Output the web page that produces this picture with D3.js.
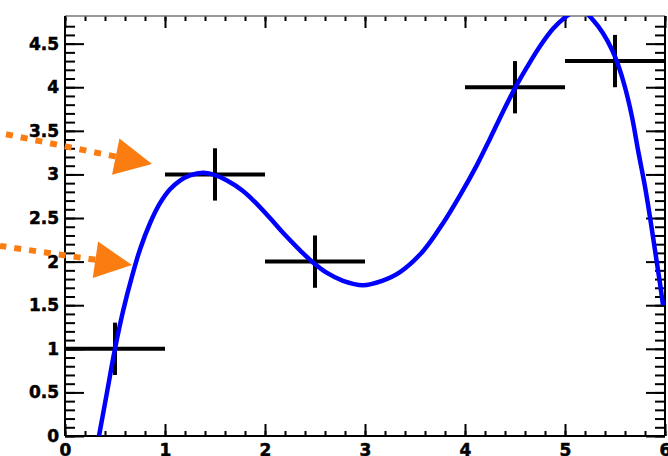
<!DOCTYPE html>
<html>
<head>
<meta charset="utf-8">
<script src="https://cdn.jsdelivr.net/npm/d3@7"></script>
<style>
  html, body { margin: 0; padding: 0; background: #fff; }
  svg { display: block; }
</style>
</head>
<body>
<svg id="chart" width="668" height="456"></svg>
<script>
// ---------------------------------------------
// Data
// ---------------------------------------------

// measured points with errors
let pointX = [0.5, 1.5, 2.5, 4.5, 5.5];
let pointY = [1, 3, 2, 4, 4.3];
let errX = [0.5, 0.5, 0.5, 0.5, 0.5];
let errY = [0.3, 0.3, 0.3, 0.3, 0.3];

// smooth curve
let curveX = [0.34, 0.42, 0.5, 0.58, 0.67, 0.75, 0.85, 0.95, 1.05, 1.15, 1.25, 1.38, 1.48,
  1.62, 1.78, 1.92, 2.05, 2.18, 2.35, 2.48, 2.62, 2.78, 2.98, 3.17, 3.35, 3.58, 3.78,
  3.95, 4.12, 4.25, 4.38, 4.5, 4.62, 4.75, 4.88, 5.0, 5.1, 5.2, 5.28, 5.38, 5.47, 5.53,
  5.6, 5.67, 5.73, 5.8, 5.85, 5.9, 5.95, 5.98];
let curveY = [0, 0.5, 1.0, 1.43, 1.83, 2.14, 2.44, 2.67, 2.83, 2.93, 2.99, 3.02, 3.0,
  2.93, 2.81, 2.66, 2.5, 2.33, 2.13, 1.99, 1.87, 1.78, 1.73, 1.78, 1.88, 2.12, 2.44,
  2.76, 3.11, 3.41, 3.72, 3.99, 4.23, 4.47, 4.67, 4.8, 4.87, 4.86, 4.77, 4.62, 4.43, 4.26,
  4.0, 3.66, 3.28, 2.86, 2.51, 2.13, 1.75, 1.5];

// arrows: start and tip, in axis units
let arrowX1 = [-0.65, -0.65];
let arrowY1 = [3.475, 2.18];
let arrowX2 = [0.87, 0.67];
let arrowY2 = [3.12, 1.96];

// axis ticks
let yMajor = [0, 0.5, 1, 1.5, 2, 2.5, 3, 3.5, 4, 4.5];
let yMinor = d3.range(0, 48).map(i => i / 10);
let xMajor = [0, 1, 2, 3, 4, 5, 6];
let xMinor = d3.range(0, 31).map(i => i / 5);

// ---------------------------------------------
// Drawing
// ---------------------------------------------

let svg = d3.select('#chart');
let margin = {top: 16, right: 3, bottom: 20, left: 65};
let width = 668 - margin.left - margin.right;
let height = 456 - margin.top - margin.bottom;

let scaleX = d3.scaleLinear().domain([0, 6]).range([0, width]);
let scaleY = d3.scaleLinear().domain([0, 4.817]).range([height, 0]);

let g = svg.append('g')
    .attr('transform', `translate(${margin.left},${margin.top})`);

svg.append('defs').append('clipPath').attr('id', 'plot-clip')
  .append('rect').attr('x', 0).attr('y', 0).attr('width', width).attr('height', height);

// Styles a d3 axis group: no domain, black ticks, heavy labels
let styleAxis = function(sel, strokeWidth) {
  sel.select('.domain').remove();
  sel.selectAll('.tick line').attr('stroke', '#000').attr('stroke-width', strokeWidth);
  sel.selectAll('.tick text')
      .attr('fill', '#000')
      .attr('stroke', '#000')
      .attr('stroke-width', 0.5);
  sel.attr('font-family', '"DejaVu Sans", sans-serif')
      .attr('font-size', 17)
      .attr('font-weight', 'bold');
};

// minor ticks first
g.append('g')
    .call(d3.axisLeft(scaleY).tickValues(yMinor).tickSizeInner(-10).tickSizeOuter(0).tickFormat(''))
    .call(styleAxis, 2);
g.append('g').attr('transform', `translate(${width},0)`)
    .call(d3.axisRight(scaleY).tickValues(yMinor).tickSizeInner(-10).tickSizeOuter(0).tickFormat(''))
    .call(styleAxis, 2);
g.append('g').attr('transform', `translate(0,${height})`)
    .call(d3.axisBottom(scaleX).tickValues(xMinor).tickSizeInner(-5).tickSizeOuter(0).tickFormat(''))
    .call(styleAxis, 2);
g.append('g')
    .call(d3.axisTop(scaleX).tickValues(xMinor).tickSizeInner(-5).tickSizeOuter(0).tickFormat(''))
    .call(styleAxis, 2);

// major ticks with labels
g.append('g')
    .call(d3.axisLeft(scaleY).tickValues(yMajor).tickSizeInner(-19).tickSizeOuter(0)
      .tickPadding(6).tickFormat(d3.format('')))
    .call(styleAxis, 2);
g.append('g').attr('transform', `translate(${width},0)`)
    .call(d3.axisRight(scaleY).tickValues(yMajor).tickSizeInner(-19).tickSizeOuter(0).tickFormat(''))
    .call(styleAxis, 2);
g.append('g').attr('transform', `translate(0,${height})`)
    .call(d3.axisBottom(scaleX).tickValues(xMajor).tickSizeInner(-12).tickSizeOuter(0)
      .tickPadding(8).tickFormat(d3.format('d')))
    .call(styleAxis, 2);
g.append('g')
    .call(d3.axisTop(scaleX).tickValues(xMajor).tickSizeInner(-12).tickSizeOuter(0).tickFormat(''))
    .call(styleAxis, 2);

// frame
g.append('line').attr('x1', 0).attr('x2', width).attr('y1', 0).attr('y2', 0)
    .attr('stroke', '#777').attr('stroke-width', 1.5);
g.append('line').attr('x1', 0).attr('x2', width).attr('y1', height).attr('y2', height)
    .attr('stroke', '#000').attr('stroke-width', 2);
g.append('line').attr('x1', 0).attr('x2', 0).attr('y1', 0).attr('y2', height)
    .attr('stroke', '#000').attr('stroke-width', 2);
g.append('line').attr('x1', width).attr('x2', width).attr('y1', 0).attr('y2', height)
    .attr('stroke', '#000').attr('stroke-width', 2);

// error bars
let points = pointX.map((x, i) => ({x: x, y: pointY[i], ex: errX[i], ey: errY[i]}));
let bars = g.append('g').attr('clip-path', 'url(#plot-clip)');
bars.selectAll('line.hbar').data(points).join('line').attr('class', 'hbar')
    .attr('x1', d => scaleX(d.x - d.ex)).attr('x2', d => scaleX(d.x + d.ex))
    .attr('y1', d => scaleY(d.y)).attr('y2', d => scaleY(d.y))
    .attr('stroke', '#000').attr('stroke-width', 4);
bars.selectAll('line.vbar').data(points).join('line').attr('class', 'vbar')
    .attr('x1', d => scaleX(d.x)).attr('x2', d => scaleX(d.x))
    .attr('y1', d => scaleY(d.y - d.ey)).attr('y2', d => scaleY(d.y + d.ey))
    .attr('stroke', '#000').attr('stroke-width', 4);

// curve
let curvePts = curveX.map((x, i) => [x, curveY[i]]);
g.append('path').datum(curvePts)
    .attr('clip-path', 'url(#plot-clip)')
    .attr('fill', 'none')
    .attr('stroke', '#0000ff')
    .attr('stroke-width', 4.5)
    .attr('stroke-linejoin', 'round')
    .attr('d', d3.line().x(d => scaleX(d[0])).y(d => scaleY(d[1])).curve(d3.curveCatmullRom));

// arrows
let headLen = 37;
let headHalf = 18.5;
let orange = '#fb7d12';
arrowX1.forEach((x1, i) => {
  let ax = scaleX(x1), ay = scaleY(arrowY1[i]);
  let bx = scaleX(arrowX2[i]), by = scaleY(arrowY2[i]);
  let len = Math.hypot(bx - ax, by - ay);
  let ux = (bx - ax) / len, uy = (by - ay) / len;
  let baseX = bx - ux * headLen, baseY = by - uy * headLen;
  // dotted shaft, drawn from the head backwards so a dash meets the head
  g.append('line')
      .attr('x1', baseX).attr('y1', baseY).attr('x2', ax).attr('y2', ay)
      .attr('stroke', orange).attr('stroke-width', 6)
      .attr('stroke-dasharray', '7,8');
  g.append('path')
      .attr('d', `M${bx},${by}L${baseX - uy * headHalf},${baseY + ux * headHalf}` +
        `L${baseX + uy * headHalf},${baseY - ux * headHalf}Z`)
      .attr('fill', orange);
});
</script>
</body>
</html>
